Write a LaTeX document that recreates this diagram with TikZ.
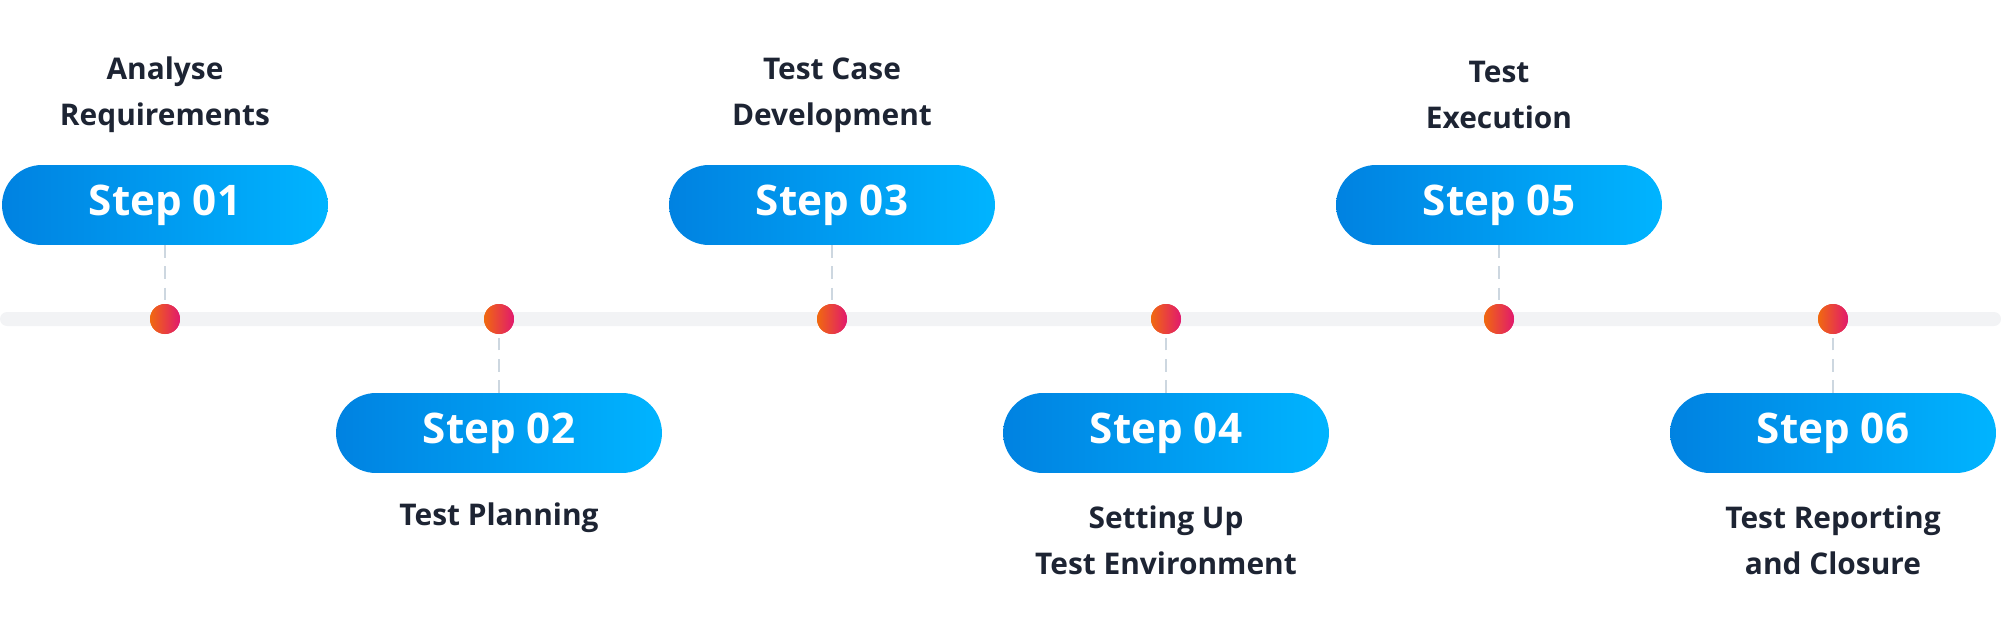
\documentclass[tikz,border=0pt]{standalone}
\usepackage{fontspec}
\setmainfont{Open Sans}
\definecolor{txt}{HTML}{1D2433}
\definecolor{dashc}{HTML}{CDD7E0}
\definecolor{trk}{HTML}{F2F3F5}
\begin{document}
\begin{tikzpicture}[x=0.02cm,y=-0.02cm,
 pill/.style={rectangle,rounded corners=0.8cm,minimum width=6.52cm,minimum height=1.6cm,left color=blue!60!cyan!90!black,left color={rgb,255:red,0;green,130;blue,225},right color={rgb,255:red,0;green,180;blue,255},text=white,font=\bfseries\fontsize{24}{28}\selectfont,inner sep=0pt,draw=none},
 dot/.style={circle,minimum size=0.6cm,inner sep=0pt,left color={rgb,255:red,240;green,105;blue,15},right color={rgb,255:red,225;green,25;blue,110}},
 lab/.style={text=txt,font=\bfseries\fontsize{17}{26}\selectfont,align=center},
 dsh/.style={draw=dashc,line width=1.4pt,dash pattern=on 7pt off 5pt}]
\useasboundingbox (0,0) rectangle (2001,632);
\fill[trk,rounded corners=0.14cm] (0,312) rectangle (2001,326);
\foreach \i/\x/\t in {1/165/1,2/499/0,3/832/1,4/1166/0,5/1499/1,6/1833/0}{
  \ifnum\t=1
    \node[pill] (p\i) at (\x,205) {Step 0\i};
  \else
    \node[pill] (p\i) at (\x,433) {Step 0\i};
  \fi
  \node[dot] (d\i) at (\x,319) {};
  \draw[dsh] (p\i) -- (d\i);
}
\node[lab] (l1) at (165,95) {Analyse\\Requirements};
\node[lab] (l3) at (832,95) {Test Case\\Development};
\node[lab] (l5) at (1499,95) {Test\\Execution};
\node[lab] (l2) at (499,518) {Test Planning};
\node[lab] (l4) at (1166,540) {Setting Up\\Test Environment};
\node[lab] (l6) at (1833,540) {Test Reporting\\and Closure};
\foreach \i in {1,...,6} \node[dot] at (d\i) {};
\end{tikzpicture}
\end{document}
